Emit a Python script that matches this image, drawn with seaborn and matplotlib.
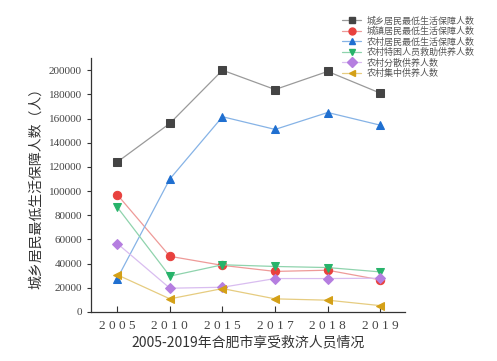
import matplotlib
matplotlib.use("Agg")
import matplotlib.pyplot as plt
import seaborn as sns
import pandas as pd

years = ["2005", "2010", "2015", "2017", "2018", "2019"]
series_names = ["城乡居民最低生活保障人数", "城镇居民最低生活保障人数", "农村居民最低生活保障人数",
                "农村特困人员救助供养人数", "农村分散供养人数", "农村集中供养人数"]
urban_rural = [124000, 156000, 200000, 184000, 199000, 181000]
urban = [97000, 46000, 38500, 33500, 34500, 26500]
rural = [27600, 110000, 161500, 151000, 165000, 154500]
rural_special = [86700, 29600, 39000, 37600, 36700, 33100]
rural_scattered = [56600, 19600, 20400, 27600, 27600, 27900]
rural_central = [30700, 10800, 19300, 10800, 9700, 5200]
values = [urban_rural, urban, rural, rural_special, rural_scattered, rural_central]

colors = ["#444444", "#e8413e", "#1f6fd0", "#27b36a", "#b57ee0", "#d4a017"]
line_colors = ["#9a9a9a", "#ee9a98", "#86b3e6", "#8fd3ad", "#d9bdf0", "#e6cc80"]
markers = ["s", "o", "^", "v", "D", "<"]
msizes = [5.5, 6, 6, 6, 5, 6]

rows = []
for name, vals in zip(series_names, values):
    for i, (y, v) in enumerate(zip(years, vals)):
        rows.append({"pos": i, "year": y, "series": name, "value": v})
df = pd.DataFrame(rows)

sns.set_style("ticks")
plt.rcParams['font.family'] = ['Noto Sans CJK SC', 'DejaVu Sans']

fig = plt.figure(figsize=(4.97, 3.61), dpi=100)
ax = fig.add_axes([0.183, 0.136, 0.632, 0.703])

sns.lineplot(data=df, x="pos", y="value", hue="series", style="series",
             palette=colors, markers=markers, dashes=False, sort=False,
             ax=ax, legend=False, linewidth=0.9, markersize=6)

for ln, c, lc, ms in zip(ax.get_lines(), colors, line_colors, msizes):
    ln.set_color(lc)
    ln.set_markerfacecolor(c)
    ln.set_markeredgecolor(c)
    ln.set_markersize(ms)

ax.set_xlim(-0.5, 5.47)
ax.set_ylim(0, 210000)
ax.set_xticks(range(len(years)))
ax.set_xticklabels([" ".join(y) for y in years], fontsize=9.5, color="#444444",
                   family=["Liberation Serif", "DejaVu Serif"])
ax.set_yticks(range(0, 200001, 20000))
ax.set_yticklabels([str(v) for v in range(0, 200001, 20000)], fontsize=8, color="#444444",
                   family=["Liberation Serif", "DejaVu Serif"])
ax.tick_params(axis="x", direction="in", length=4, width=0.8, color="#333333", pad=6)
ax.tick_params(axis="y", direction="out", length=3, width=0.8, color="#333333")
for s in ["top", "right"]:
    ax.spines[s].set_visible(False)
for s in ["left", "bottom"]:
    ax.spines[s].set_color("#333333")
    ax.spines[s].set_linewidth(0.9)

ax.set_xlabel("2005-2019年合肥市享受救济人员情况", fontsize=10, color="#333333", labelpad=2)
ax.set_ylabel("城乡居民最低生活保障人数（人）", fontsize=10, color="#333333", labelpad=4)

from matplotlib.lines import Line2D
handles = [Line2D([0], [0], color=lc, marker=m, markerfacecolor=c, markeredgecolor=c,
                  linewidth=0.9, markersize=5)
           for c, lc, m in zip(colors, line_colors, markers)]
fig.legend(handles, series_names, loc="upper left", bbox_to_anchor=(0.68, 0.965),
           frameon=False, fontsize=6.5, labelcolor="#555555", handlelength=2.2,
           handletextpad=0.6, labelspacing=0.15, borderaxespad=0)

fig.savefig("out.png", dpi=100)
